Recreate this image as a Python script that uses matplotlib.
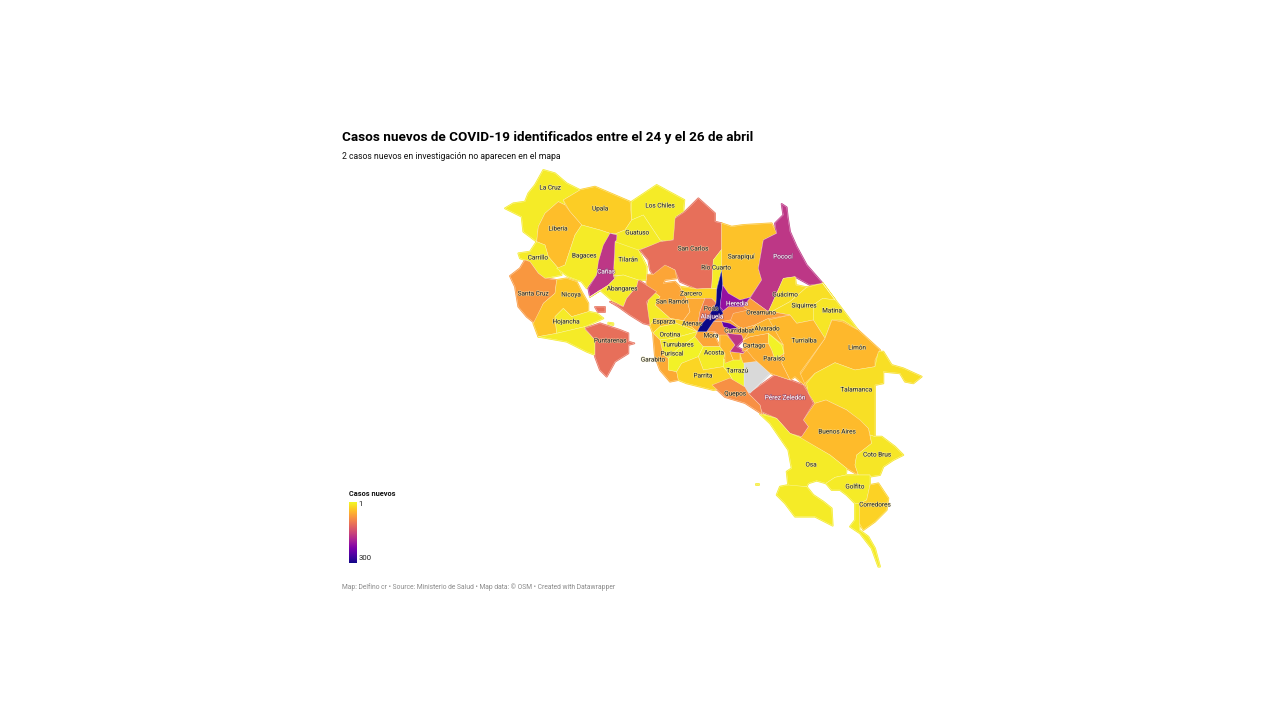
import matplotlib
matplotlib.use("Agg")
import matplotlib.pyplot as plt
import matplotlib.patheffects as pe
from matplotlib.collections import PolyCollection
from matplotlib.colors import LogNorm
import numpy as np

plt.rcParams["font.family"] = ["Roboto", "DejaVu Sans"]


def frame(x0, y0):
    # outlines were traced on 3x crops of the map
    def conv(pts):
        return [(x0 + x / 3, y0 + y / 3) for x, y in pts]
    return conv


A = frame(500, 170)
B = frame(640, 190)
C = frame(680, 280)
D = frame(740, 340)

title = "Casos nuevos de COVID-19 identificados entre el 24 y el 26 de abril"
subtitle = "2 casos nuevos en investigación no aparecen en el mapa"
footer = "Map: Delfino cr • Source: Ministerio de Salud • Map data: © OSM • Created with Datawrapper"
legend_title = "Casos nuevos"

cantons = [
    "La Cruz", "Upala", "Los Chiles", "Guatuso", "Liberia", "Carrillo", "Bagaces", "Tilarán",
    "Cañas", "Abangares", "Santa Cruz", "Nicoya", "Hojancha", "Nandayure", "Cóbano", "Puntarenas",
    "Chira", "San Carlos", "San Ramón", "Montes de Oro", "Golfo", "Zarcero", "Grecia", "Esparza",
    "Orotina", "Atenas", "Turrubares", "Garabito", "Puriscal", "Mora", "Acosta", "Parrita",
    "Río Cuarto", "Poás", "Sarapiquí", "Pococí", "Guácimo", "Siquirres",
    "Matina", "Limón", "Talamanca", "Turrialba", "Buenos Aires", "Pérez Zeledón", "Coto Brus",
    "Osa", "Osa Sur", "Isla", "Golfito", "Golfito Sur", "Corredores", "Dota", "Tarrazú", "Quepos",
    "Oreamuno", "Barva", "Santa Ana", "Aserrí", "Goicoechea", "León Cortés", "El Guarco",
    "Alajuela", "Heredia", "San José", "Desamparados", "Cartago", "Alvarado", "Jiménez", "Paraíso",
]
cases = [
    1.2, 1.8, 1.2, 1.2, 2.2, 1.2, 1.2, 1.2,
    24, 1.2, 4, 2, 1.2, 1.2, 1.2, 8,
    8, 8, 3.2, 1.2, 8, 1.7, 3, 2,
    1.2, 1.7, 1.2, 3, 1.1, 3.2, 1.2, 1.6,
    1.2, 6, 2.1, 24, 1.4, 1.4,
    1.3, 2.4, 1.4, 2.4, 2.3, 8, 1.3,
    1.2, 1.2, 1.2, 1.2, 1.2, 1.7, np.nan, 1.1, 4.5,
    3.5, 4.5, 4.5, 2.5, 3, 2.5, 3,
    300, 50, 110, 24, 3, 2.5, 1.1, 2.8,
]
outlines = [
    A([(130, 0), (165, 10), (200, 40), (240, 60), (190, 90), (195, 105), (175, 95), (135, 130), (115, 170), (110, 215), (70, 185), (65, 140), (15, 115), (40, 100), (75, 95), (85, 70), (105, 45)]),
    A([(190, 90), (240, 60), (285, 50), (390, 95), (395, 150), (375, 180), (350, 190), (330, 190), (300, 180), (245, 165), (210, 125)]),
    A([(395, 95), (470, 45), (553, 90), (550, 125), (527, 140), (525, 205), (505, 215), (480, 210), (430, 135), (395, 150)]),
    A([(395, 150), (430, 135), (480, 210), (490, 215), (415, 240), (440, 290), (345, 215), (352, 195), (330, 190), (350, 190), (375, 180)]),
    A([(175, 95), (195, 105), (210, 125), (245, 165), (225, 195), (210, 240), (195, 285), (175, 295), (145, 260), (135, 225), (110, 215), (115, 170), (135, 130)]),
    A([(110, 215), (135, 225), (145, 260), (175, 295), (185, 315), (135, 325), (115, 310), (90, 275), (60, 265), (55, 250), (90, 245)]),
    A([(245, 165), (300, 180), (330, 190), (320, 215), (295, 285), (290, 315), (260, 355), (245, 335), (205, 320), (170, 295), (195, 285), (210, 240), (225, 195)]),
    A([(345, 215), (415, 240), (440, 290), (440, 330), (415, 330), (370, 315), (340, 318)]),
    A([(330, 190), (350, 195), (350, 210), (345, 215), (340, 318), (370, 318), (345, 325), (325, 345), (270, 380), (265, 355), (290, 315), (295, 275), (310, 225)]),
    A([(340, 320), (370, 315), (415, 330), (410, 350), (380, 385), (370, 410), (335, 390), (300, 360), (270, 380), (325, 345), (345, 325)]),
    A([(75, 270), (90, 275), (115, 310), (135, 325), (170, 330), (165, 370), (130, 400), (105, 460), (80, 440), (55, 410), (45, 350), (30, 318), (60, 295)]),
    A([(170, 330), (200, 325), (230, 335), (245, 365), (265, 400), (265, 425), (215, 440), (190, 415), (165, 440), (170, 490), (115, 500), (100, 460), (130, 400), (165, 370)]),
    A([(190, 415), (215, 440), (265, 425), (290, 430), (310, 445), (255, 470), (170, 490), (165, 440)]),
    A([(115, 500), (170, 490), (255, 470), (255, 478), (285, 510), (285, 555), (260, 545), (200, 515)]),
    A([(325, 458), (340, 460), (340, 465), (325, 463)]),
    A([(255, 475), (300, 460), (360, 480), (385, 490), (385, 515), (403, 520), (385, 525), (385, 550), (345, 575), (320, 620), (300, 600), (285, 560), (285, 510)]),
    A([(285, 410), (315, 410), (315, 425), (295, 425)]),
    B([(0, 180), (60, 155), (100, 150), (105, 85), (135, 65), (175, 25), (225, 70), (225, 95), (245, 100), (245, 178), (220, 210), (215, 295), (170, 297), (120, 275), (105, 240), (85, 230), (40, 255), (30, 240), (25, 210)]),
    B([(20, 255), (40, 253), (75, 225), (105, 240), (110, 265), (75, 270), (70, 280), (105, 275), (120, 290), (140, 325), (150, 365), (130, 392), (90, 385), (45, 345), (60, 320), (20, 290)]),
    B([(25, 335), (20, 290), (60, 320), (45, 345), (90, 385), (45, 385), (30, 405), (5, 385)]),
    A([(330, 395), (370, 410), (380, 385), (410, 350), (415, 330), (470, 365), (440, 395), (450, 465), (430, 460), (390, 435), (355, 410)]),
    B([(120, 290), (170, 297), (215, 295), (230, 295), (235, 345), (215, 325), (195, 325), (140, 325)]),
    B([(140, 325), (195, 325), (180, 365), (175, 395), (190, 400), (172, 425), (130, 392), (150, 365)]),
    B([(30, 405), (45, 385), (90, 385), (110, 400), (60, 410), (39, 429)]),
    B([(39, 429), (60, 410), (110, 400), (172, 425), (100, 445), (60, 450)]),
    B([(90, 385), (130, 392), (172, 425), (110, 400)]),
    B([(60, 450), (100, 445), (172, 425), (165, 440), (110, 480), (85, 505), (70, 495)]),
    B([(39, 429), (60, 450), (70, 495), (85, 505), (85, 540), (110, 545), (115, 570), (90, 575), (60, 540), (45, 500)]),
    B([(110, 480), (165, 440), (190, 470), (175, 500), (125, 520), (110, 545), (85, 540), (85, 505)]),
    B([(172, 425), (200, 425), (215, 420), (225, 440), (240, 470), (190, 470), (165, 440)]),
    B([(190, 470), (240, 470), (255, 490), (250, 510), (250, 530), (190, 540), (175, 500)]),
    B([(125, 520), (175, 500), (190, 540), (250, 530), (270, 555), (290, 590), (220, 600), (140, 580), (115, 570), (110, 545)]),
    B([(245, 178), (245, 240), (230, 295), (215, 295), (220, 210)]),
    B([(195, 325), (215, 325), (235, 345), (215, 380), (190, 400), (175, 395), (180, 365)]),
    B([(245, 100), (275, 110), (310, 105), (395, 100), (410, 130), (370, 150), (355, 235), (365, 270), (330, 322), (300, 330), (265, 310), (248, 285), (245, 240)]),
    B([(425, 42), (440, 52), (443, 80), (450, 125), (470, 170), (500, 225), (548, 280), (510, 285), (465, 260), (430, 265), (410, 310), (395, 345), (385, 365), (330, 325), (365, 270), (355, 235), (370, 150), (410, 130), (405, 100), (430, 75)]),
    B([(430, 265), (465, 260), (468, 285), (500, 292), (450, 335), (395, 365), (385, 365), (410, 310)]),
    B([(500, 292), (548, 280), (585, 330), (548, 325), (520, 345), (520, 390), (470, 400), (450, 375), (395, 365), (450, 335)]),
    B([(548, 280), (654, 420), (609, 390), (575, 390), (555, 445), (520, 390), (520, 345), (548, 325), (585, 330)]),
    D([(180, 105), (255, -5), (276, -60), (309, -54), (354, -30), (420, 30), (405, 60), (405, 80), (345, 90), (285, 68), (225, 100), (190, 135)]),
    D([(200, 130), (225, 100), (285, 68), (345, 90), (405, 80), (415, 35), (430, 35), (455, 75), (490, 85), (545, 110), (520, 130), (495, 125), (480, 100), (430, 95), (430, 130), (405, 135), (405, 290), (390, 285), (385, 265), (320, 210), (258, 180), (225, 190), (205, 160)]),
    B([(385, 390), (450, 375), (470, 400), (520, 390), (555, 445), (480, 548), (498, 590), (465, 560), (450, 570), (425, 520), (432, 490), (430, 465)]),
    D([(258, 180), (320, 210), (360, 240), (385, 265), (395, 310), (350, 345), (345, 375), (355, 405), (320, 385), (270, 345), (180, 295), (205, 260), (190, 240), (225, 190)]),
    D([(25, 160), (70, 130), (105, 105), (150, 120), (190, 135), (205, 160), (220, 190), (190, 240), (205, 260), (185, 290), (150, 280), (110, 235), (65, 215), (60, 195)]),
    D([(405, 290), (425, 290), (465, 320), (490, 345), (460, 360), (430, 380), (420, 405), (390, 410), (390, 405), (355, 405), (345, 375), (350, 345), (395, 310), (390, 285)]),
    D([(60, 222), (110, 235), (150, 280), (180, 292), (270, 345), (320, 385), (318, 405), (285, 412), (258, 430), (230, 422), (205, 430), (200, 440), (145, 440), (140, 395), (155, 385), (145, 330), (90, 250)]),
    D([(110, 465), (120, 440), (145, 435), (200, 440), (220, 465), (250, 485), (275, 505), (278, 557), (225, 530), (165, 530), (135, 490)]),
    D([(48, 432), (56, 432), (56, 436), (48, 436)]),
    D([(258, 430), (285, 412), (318, 405), (390, 405), (390, 435), (380, 480), (360, 490), (345, 490), (320, 465), (300, 450), (275, 450)]),
    D([(345, 490), (358, 490), (360, 545), (358, 570), (385, 590), (405, 625), (420, 680), (415, 680), (395, 625), (360, 580), (330, 560), (345, 540)]),
    D([(390, 435), (415, 430), (445, 475), (440, 510), (405, 545), (370, 570), (358, 550), (358, 490), (380, 480)]),
    D([(10, 70), (50, 60), (90, 100), (30, 160), (10, 150)]),
    B([(250, 510), (300, 490), (312, 500), (312, 600), (290, 590), (270, 555), (250, 530)]),
    D([(-84, 135), (-30, 114), (15, 141), (27, 162), (60, 195), (66, 222), (15, 189), (-45, 171)]),
    B([(265, 350), (310, 350), (330, 325), (385, 365), (395, 365), (450, 375), (390, 385), (375, 390), (345, 405), (310, 415), (295, 410), (270, 390), (250, 370)]),
    C([(130, 92), (145, 80), (190, 80), (205, 90), (160, 100), (150, 125), (125, 125), (100, 125)]),
    C([(100, 125), (125, 125), (150, 165), (140, 185), (130, 175), (105, 155), (80, 155)]),
    C([(120, 165), (140, 165), (165, 195), (150, 215), (160, 240), (135, 250), (135, 220), (120, 200)]),
    C([(150, 120), (175, 140), (190, 145), (225, 135), (200, 170), (190, 180), (185, 165), (140, 160), (150, 165), (125, 125)]),
    C([(150, 215), (190, 220), (180, 222), (180, 240), (160, 240)]),
    C([(190, 220), (201, 210), (240, 215), (262, 245), (255, 240), (225, 245), (189, 249), (180, 222)]),
    B([(245, 240), (248, 290), (240, 355), (250, 370), (220, 395), (200, 425), (172, 425), (182, 405), (205, 380), (228, 340), (230, 300)]),
    B([(248, 285), (265, 310), (300, 330), (330, 322), (310, 350), (265, 350), (250, 362), (240, 350)]),
    C([(125, 125), (150, 130), (175, 145), (145, 148), (130, 140)]),
    C([(140, 160), (185, 165), (190, 180), (170, 200), (192, 212), (190, 220), (150, 215), (165, 195)]),
    B([(310, 450), (330, 440), (385, 430), (385, 460), (340, 465), (320, 480), (305, 485), (315, 470)]),
    B([(345, 405), (385, 385), (430, 465), (385, 430), (330, 440), (310, 450)]),
    B([(385, 430), (425, 465), (432, 490), (405, 510), (395, 480), (385, 460)]),
    B([(320, 480), (340, 465), (385, 460), (395, 480), (405, 510), (432, 490), (425, 520), (450, 570), (405, 555), (388, 548), (340, 505)]),
]

label_names = [
    "La Cruz", "Upala", "Los Chiles", "Liberia", "Guatuso", "San Carlos", "Sarapiquí", "Pococí",
    "Carrillo", "Bagaces", "Tilarán", "Río Cuarto", "Cañas", "Santa Cruz", "Nicoya", "Abangares",
    "Zarcero", "San Ramón", "Guácimo", "Siquirres", "Matina", "Poás", "Heredia", "Oreamuno",
    "Hojancha", "Esparza", "Atenas", "Alajuela", "Alvarado", "Curridabat", "Orotina", "Mora",
    "Puntarenas", "Turrialba", "Turrubares", "Cartago", "Limón", "Puriscal", "Acosta", "Paraíso",
    "Garabito", "Tarrazú", "Parrita", "Talamanca", "Quepos", "Pérez Zeledón", "Buenos Aires",
    "Coto Brus", "Osa", "Golfito", "Corredores",
]
label_x = [
    550, 600, 660, 558, 637, 693, 741, 783,
    538, 584, 628, 716, 606, 533, 571, 622,
    691, 672, 785, 804, 832, 711, 737, 761,
    566, 664, 692, 712, 767, 739, 670, 711,
    610, 804, 678, 754, 857, 672, 714, 774,
    653, 737, 703, 856, 735, 785, 837,
    877, 811, 855, 875,
]
label_y = [
    188, 209, 206, 229, 233, 249, 257, 257,
    258, 256, 260, 268, 272, 294, 295, 289,
    294, 302, 295, 306, 311, 309, 304, 313,
    322, 322, 324, 317, 329, 331, 335, 336,
    341, 341, 345, 346, 348, 354, 353, 359,
    360, 371, 376, 390, 394, 398, 432,
    455, 465, 487, 505,
]
dark_labels = ["Cañas", "Pérez Zeledón", "Heredia", "Pococí", "Alajuela"]

legend_ticks = ["1", "300"]


fig = plt.figure(figsize=(12.8, 7.2), dpi=100)
ax = fig.add_axes([0, 0, 1, 1])
ax.set_xlim(0, 1280)
ax.set_ylim(720, 0)
ax.axis("off")

cmap = plt.get_cmap("plasma_r").copy()
cmap.set_bad("#d9d9d9")
norm = LogNorm(vmin=1, vmax=300)
vals = np.ma.masked_invalid(cases)

# first pass closes the small slivers between traced outlines
under = PolyCollection(outlines, array=vals, cmap=cmap, norm=norm, edgecolors="face", linewidths=1.3, zorder=1)
ax.add_collection(under)
over = PolyCollection(outlines, array=vals, cmap=cmap, norm=norm, edgecolors=(1, 1, 1, 0.55), linewidths=0.35, zorder=2)
ax.add_collection(over)

for name, x, y in zip(label_names, label_x, label_y):
    if name in dark_labels:
        col, halo = "#ffffff", "#7a3a70"
    else:
        col, halo = "#2a2a2a", "#f6f0c0"
    ax.text(x, y, name, fontsize=4.6, color=col, ha="center", va="center", zorder=3,
            path_effects=[pe.withStroke(linewidth=0.9, foreground=halo, alpha=0.55)])

ax.text(342, 137.5, title, fontsize=9.7, fontweight="bold", color="#000000", va="center")
ax.text(342, 156.5, subtitle, fontsize=6.2, color="#111111", va="center")
ax.text(342, 587, footer, fontsize=4.9, color="#8a8a8a", va="center")

ax.text(349, 494.5, legend_title, fontsize=5.3, fontweight="bold", color="#111111", va="center")
grad = np.linspace(0, 1, 256).reshape(-1, 1)
ax.imshow(grad, cmap="plasma_r", extent=(349, 357, 563, 502), aspect="auto")
ax.set_xlim(0, 1280)
ax.set_ylim(720, 0)
ax.text(358.5, 504.5, legend_ticks[0], fontsize=5.6, color="#222222", va="center")
ax.text(358.5, 558.5, legend_ticks[1], fontsize=5.6, color="#222222", va="center")

fig.savefig("out.png", dpi=100, facecolor="white")
